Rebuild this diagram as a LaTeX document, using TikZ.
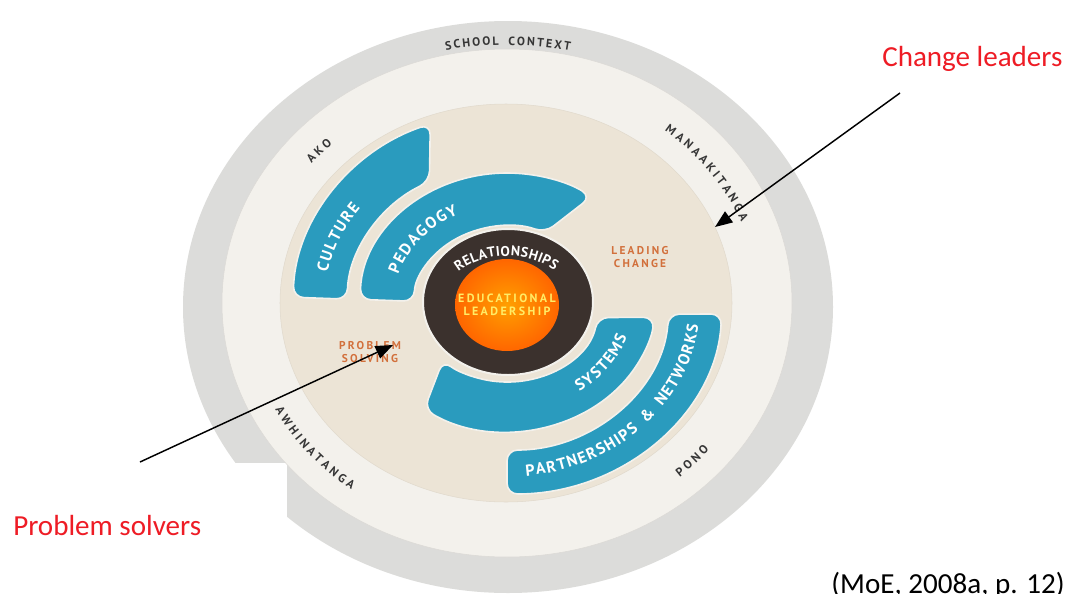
\documentclass[tikz,border=0pt]{standalone}
\usepackage{fontspec}
\usepackage{tikz}
\usetikzlibrary{arrows.meta,decorations.text}
\setmainfont{Carlito}
\newfontfamily\dinfont[LetterSpace=20]{PT Sans}
\definecolor{ringgray}{HTML}{DCDCDA}
\definecolor{ringlight}{HTML}{F3F1EC}
\definecolor{beige}{HTML}{ECE4D6}
\definecolor{bandblue}{HTML}{2A9BBE}
\definecolor{darkring}{HTML}{3B312D}
\definecolor{rust}{HTML}{D2703C}
\definecolor{ringtext}{HTML}{363636}
\definecolor{notered}{HTML}{EE1C25}

\begin{document}
\begin{tikzpicture}[x=0.75pt,y=0.75pt,
  band/.style={fill=bandblue,draw=ringlight,line width=1.2pt,rounded corners=8pt},
  pointer/.style={black,line width=1.1pt,-{Triangle[length=13pt,width=10pt]}},
  note/.style={text=notered,font=\fontsize{21.8}{26}\selectfont,inner sep=0pt},
  keyword/.style={text=rust,font=\dinfont\bfseries\fontsize{8.5}{10}\selectfont,align=center,inner sep=0pt},
  ringlabel/.style={decorate,decoration={text along path,text align=center,text color=ringtext,
    text={|\dinfont\bfseries\fontsize{9}{9}\selectfont\kern2.3pt|#1}}},
  bandlabel/.style={decorate,decoration={text along path,text align=center,text color=white,
    text={|\dinfont\bfseries\fontsize{12}{12}\selectfont\kern1.1pt|#1}}}]
\useasboundingbox (0,0) rectangle (1068,-593);
\fill [white] (0,0) rectangle (1068,-593);
\begin{scope}[shift={(507,-304)}]
\fill [ringgray] (1,-3) ellipse [x radius=325, y radius=286];
\fill [white] (-507,-159) rectangle (-220,-289);
\draw [ringlight!80!gray, fill=ringlight] (0,1) ellipse [x radius=285, y radius=254];
\draw [beige!90!gray, fill=beige] (-1,1) ellipse [x radius=226, y radius=199];
\draw [band] (178:214 and 193) arc [start angle=178, end angle=111, x radius=214, y radius=193]
  -- (119:160 and 140) arc [start angle=119, end angle=178, x radius=160, y radius=140] -- cycle;
\draw [band] (178:147 and 131) arc [start angle=178, end angle=55, x radius=147, y radius=131]
  -- (66:93 and 78) arc [start angle=66, end angle=178, x radius=93, y radius=78] -- cycle;
\draw [band] (236:148 and 127) arc [start angle=236, end angle=354, x radius=148, y radius=127]
  -- (350:92 and 78) arc [start angle=350, end angle=226, x radius=92, y radius=78] -- cycle;
\draw [band] (270:215 and 190) arc [start angle=270, end angle=357, x radius=215, y radius=190]
  -- (356:162 and 146) arc [start angle=356, end angle=270, x radius=162, y radius=146] -- cycle;
\draw [ringlight, fill=darkring, line width=1.5pt] (1,2) ellipse [x radius=85, y radius=73];
\shade [inner color=orange!75!yellow, outer color=orange!80!red] (0,-1) ellipse [x radius=52, y radius=46];
\path [decorate, decoration={text along path, text align=center, text color=ringtext,
  text={|\dinfont\bfseries\fontsize{9}{9}\selectfont\kern1.5pt|SCHOOL CONTEXT}}]
  (125:305 and 259) arc [start angle=125, end angle=55, x radius=305, y radius=259];
\path [ringlabel={AKO}] (155:252 and 222) arc [start angle=155, end angle=121, x radius=252, y radius=222];
\path [ringlabel={MANAAKITANGA}] (70:252 and 222) arc [start angle=70, end angle=2, x radius=252, y radius=222];
\path [ringlabel={AWHINATANGA}] (184:261 and 231) arc [start angle=184, end angle=254, x radius=261, y radius=231];
\path [ringlabel={PONO}] (-60:261 and 231) arc [start angle=-60, end angle=-28, x radius=261, y radius=231];
\path [bandlabel={CULTURE}] (190:183 and 160) arc [start angle=190, end angle=124, x radius=183, y radius=160];
\path [bandlabel={PEDAGOGY}] (190:114 and 99) arc [start angle=190, end angle=92, x radius=114, y radius=99];
\path [bandlabel={SYSTEMS}] (-80:126 and 107) arc [start angle=-80, end angle=10, x radius=126, y radius=107];
\path [bandlabel={PARTNERSHIPS {\&} NETWORKS}] (-100:193 and 173) arc [start angle=-100, end angle=10, x radius=193, y radius=173];
\path [decorate, decoration={text along path, text align=center, text color=white,
  text={|\dinfont\bfseries\fontsize{10.5}{10.5}\selectfont\kern0.3pt|RELATIONSHIPS}}]
  (160:66 and 48) arc [start angle=160, end angle=22, x radius=66, y radius=48];
\end{scope}
\node (core) [keyword, text=orange!25!yellow!60!white, font=\dinfont\bfseries\fontsize{9}{9.5}\selectfont] at (507,-305) {EDUCATIONAL\\LEADERSHIP};
\node (leading) [keyword] at (640,-257) {LEADING\\CHANGE};
\node (solving) [keyword] at (370,-352) {PROBLEM\\SOLVING};
\node (leaders) [note, anchor=base west] at (882,-66) {Change leaders};
\node (solvers) [note, anchor=base west] at (13,-535) {Problem solvers};
\node (source) [note, text=black, anchor=base east] at (1065,-593) {(MoE, 2008a, p. 12)};
\coordinate (leadersfrom) at (900,-93);
\coordinate (leadersto) at (715,-227);
\coordinate (solversfrom) at (140,-462);
\coordinate (solversto) at (393,-345);
\draw [pointer] (leadersfrom) -- (leadersto);
\draw [pointer] (solversfrom) -- (solversto);
\end{tikzpicture}
\end{document}
